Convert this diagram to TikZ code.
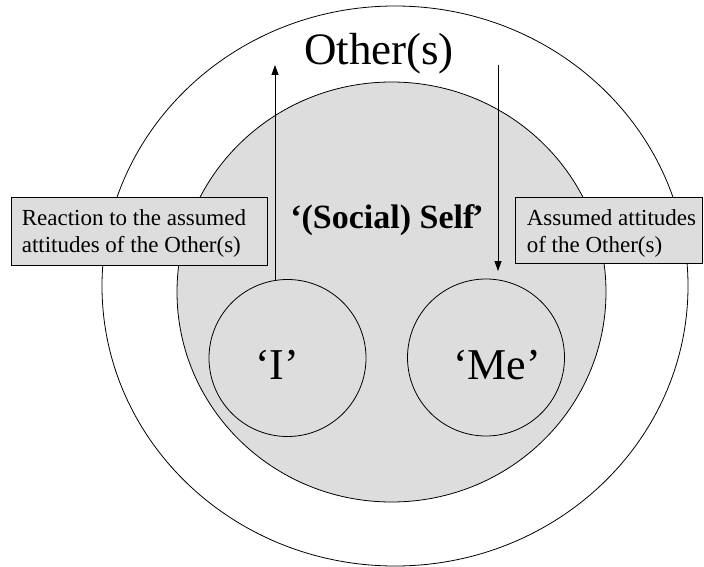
\documentclass[tikz,border=0pt]{standalone}
\usepackage{fontspec}
\setmainfont{Liberation Serif}
\usetikzlibrary{shapes.geometric,arrows.meta,calc}
\definecolor{selfgray}{RGB}{221,221,221}
\begin{document}
\begin{tikzpicture}[x=1pt,y=-1pt,
  ring/.style={draw=black, line width=0.8pt, ellipse, inner sep=0pt},
  part/.style={draw=black, line width=0.8pt, circle, fill=selfgray, inner sep=0pt, minimum size=157pt},
  infobox/.style={draw=black, line width=0.8pt, fill=selfgray, rectangle, inner sep=0pt},
  boxtext/.style={font=\fontsize{23}{27}\selectfont, align=left, inner sep=0pt},
  flow/.style={draw=black, line width=0.8pt, -{Triangle[width=7pt,length=10pt]}}
]
\useasboundingbox (0,0) rectangle (704,567);

% surrounding Other(s) and the social self
\node[ring, fill=white, minimum width=586pt, minimum height=560pt] (other) at (395,286) {};
\node[ring, fill=selfgray, minimum width=429pt, minimum height=420pt] (self) at (391.5,292) {};

% the two phases of the self
\node[part] (i) at (287.5,358) {};
\node[part] (me) at (486,357.5) {};

% side boxes (the base anchor of a two-line text is its last line)
\node[infobox, minimum width=256pt, minimum height=68pt] (react) at (139,231) {};
\node[infobox, minimum width=187pt, minimum height=66pt] (assumed) at (608.5,230) {};
\node[boxtext, anchor=base west] (reacttxt) at ($(react.west |- 0,252)+(11,0)$)
  {Reaction to the assumed\\attitudes of the Other(s)};
\node[boxtext, anchor=base west] (assumedtxt) at ($(assumed.west |- 0,252)+(12,0)$)
  {Assumed attitudes\\of the Other(s)};

% arrows between the self and the Other(s)
\coordinate (upfoot) at (275,281);
\coordinate (uphead) at (275,65);
\coordinate (downtail) at (498,65);
\coordinate (downhead) at (498,271);
\draw[flow] (upfoot) -- (uphead);
\draw[flow] (downtail) -- (downhead);

% labels
\node[font=\fontsize{45}{54}\selectfont, anchor=base, inner sep=0pt] (othertxt) at (379,65) {Other(s)};
\node[font=\fontsize{34}{40}\selectfont\bfseries, anchor=base, inner sep=0pt] (selftxt) at (387,228) {‘(Social) Self\kern-2pt’};
\node[font=\fontsize{44}{52}\selectfont, anchor=base, inner sep=0pt] (itxt) at (277,379) {‘I’};
\node[font=\fontsize{44}{52}\selectfont, anchor=base, inner sep=0pt] (metxt) at (497,379) {‘Me’};
\end{tikzpicture}
\end{document}
